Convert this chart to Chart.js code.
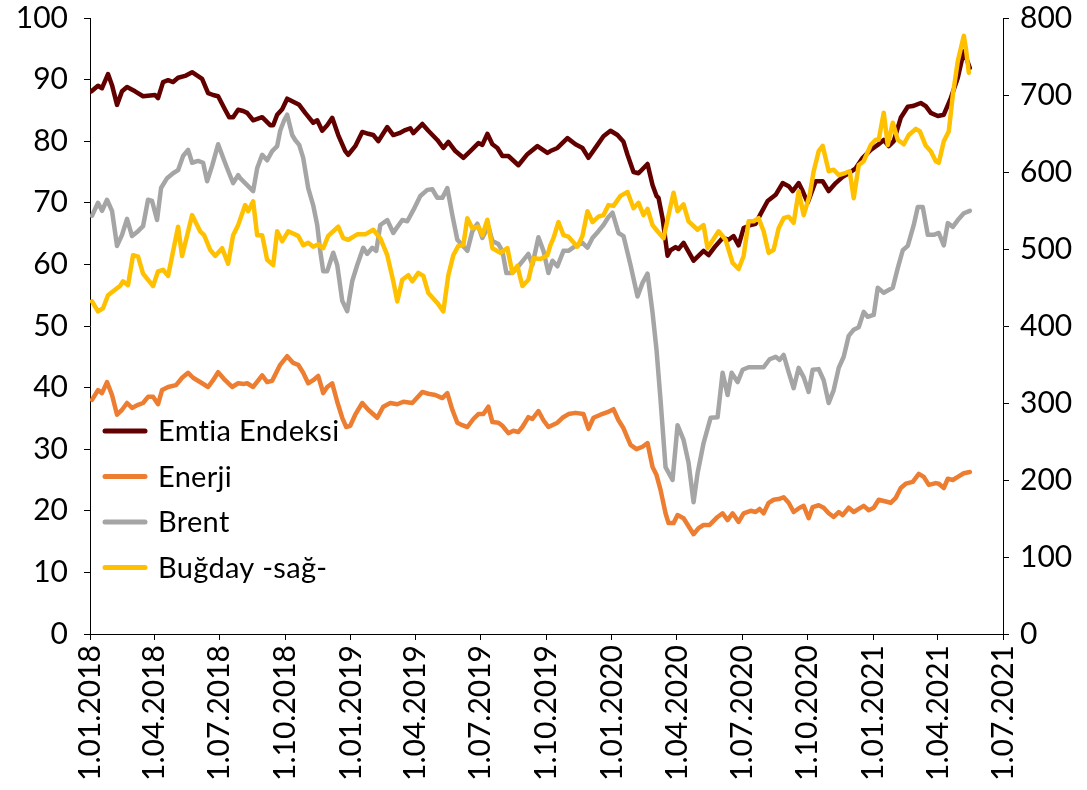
<!DOCTYPE html>
<html>
<head>
<meta charset="utf-8">
<script src="https://cdn.jsdelivr.net/npm/chart.js@4.4.1/dist/chart.umd.min.js"></script>
<style>
html,body{margin:0;padding:0;background:#fff;}
#wrap{width:1087px;height:790px;}
</style>
</head>
<body>
<div id="wrap"><canvas id="c" width="1087" height="790"></canvas></div>
<script>
// x values: weeks since 1.01.2018
const tickLabels = ['1.01.2018','1.04.2018','1.07.2018','1.10.2018','1.01.2019','1.04.2019','1.07.2019','1.10.2019','1.01.2020','1.04.2020','1.07.2020','1.10.2020','1.01.2021','1.04.2021','1.07.2021'];
const tickDates = ['2018-01-01','2018-04-01','2018-07-01','2018-10-01','2019-01-01','2019-04-01','2019-07-01','2019-10-01','2020-01-01','2020-04-01','2020-07-01','2020-10-01','2021-01-01','2021-04-01','2021-07-01'];
const seriesNames = ['Emtia Endeksi','Enerji','Brent','Buğday -sağ-'];

const emtiaWeek = [0.3,1.6,2.4,3.6,4.4,5.4,6.4,7.4,9.0,10.6,13.0,13.6,14.6,15.6,16.6,17.6,19.0,20.4,22.4,23.6,24.6,25.6,27.0,27.8,28.6,29.6,30.6,31.4,32.6,34.4,36.0,36.6,37.4,38.4,39.4,40.6,41.8,43.0,44.6,45.4,46.4,47.4,48.4,49.6,51.0,51.6,53.0,54.4,55.6,56.6,57.6,59.4,60.6,61.8,63.0,64.0,64.6,66.4,67.6,69.4,70.6,71.6,73.0,74.6,76.0,77.6,78.4,79.4,80.4,81.4,82.4,83.6,85.6,87.4,89.4,91.4,92.0,93.4,95.4,97.0,98.4,99.6,101.4,102.6,104.0,105.4,106.6,107.4,108.6,109.6,111.4,112.4,113.2,113.6,114.4,115.4,116.0,117.0,117.6,118.6,120.6,122.6,123.6,125.0,126.4,127.6,128.6,129.6,130.6,132.0,133.0,134.0,135.4,137.0,138.4,139.6,140.4,141.6,142.4,143.4,144.0,145.0,146.4,147.6,149.0,150.4,151.6,153.0,154.4,156.0,157.4,158.6,159.6,160.6,162.0,163.4,164.4,166.0,167.0,168.0,169.4,170.6,172.0,173.4,174.6,175.8];
const emtiaVal = [88.1,89.0,88.6,90.9,89.1,85.9,88.1,88.8,88.1,87.3,87.5,87.0,89.6,89.9,89.6,90.3,90.6,91.2,90.1,87.8,87.5,87.3,85.1,83.9,83.9,85.1,84.9,84.6,83.4,83.9,82.6,82.6,84.3,85.2,86.9,86.4,85.9,84.6,83.0,83.4,81.7,82.6,83.8,81.0,78.4,77.8,79.2,81.5,81.2,81.0,80.0,82.3,81.0,81.3,81.8,82.1,81.3,82.8,81.7,80.2,78.9,79.9,78.4,77.3,78.4,79.7,79.4,81.2,79.5,78.9,77.6,77.6,76.1,77.9,79.2,78.1,78.4,78.9,80.5,79.5,78.9,77.3,79.4,80.8,81.7,81.0,79.9,77.8,75.0,74.8,76.3,72.9,71.1,70.8,67.5,61.4,62.3,62.8,62.5,63.5,60.6,62.2,61.5,63.0,64.3,64.0,64.6,63.1,65.9,66.4,66.6,68.2,70.3,71.3,73.2,72.7,71.9,73.2,71.9,70.0,71.3,73.5,73.5,71.9,73.2,74.2,74.8,75.6,77.3,78.6,79.4,80.2,79.2,80.0,83.8,85.6,85.7,86.2,85.7,84.6,84.1,84.3,87.0,90.3,94.6,91.9];

const enerjiWeek = [0.4,1.6,2.4,3.4,4.4,5.4,6.4,7.4,8.4,9.6,10.6,11.6,12.6,13.6,14.4,15.6,17.2,18.4,19.6,20.6,22.4,23.6,24.6,25.6,27.0,28.4,29.6,30.8,31.4,32.6,34.4,35.4,36.4,38.0,39.4,40.6,41.6,42.6,43.6,44.6,45.6,46.6,47.4,48.4,49.4,50.4,51.2,52.0,53.0,54.4,55.6,57.4,58.6,60.0,61.4,62.6,64.4,66.4,67.6,69.0,70.4,71.4,72.4,73.4,74.4,75.4,76.6,77.6,78.6,79.6,80.4,81.6,82.4,83.6,84.6,85.6,86.4,87.6,88.4,89.6,90.6,91.6,93.4,94.4,95.6,97.0,98.6,99.6,100.6,102.0,103.4,104.6,105.6,106.6,108.0,109.2,110.4,111.4,112.4,113.2,114.0,115.0,115.6,116.6,117.4,118.6,119.6,120.6,121.6,122.6,123.8,124.4,125.4,126.4,127.4,128.4,129.6,130.6,132.0,133.0,133.8,134.6,135.6,136.6,137.6,138.6,139.6,140.6,141.8,142.6,143.6,144.4,145.6,146.6,147.6,148.6,149.6,150.4,151.6,152.6,153.6,154.6,155.6,156.6,157.6,158.6,160.0,161.0,162.0,163.0,164.4,165.6,166.6,167.6,169.0,169.6,170.6,171.4,172.4,173.4,174.6,175.8];
const enerjiVal = [38.0,39.6,39.1,40.9,38.8,35.6,36.4,37.5,36.7,37.2,37.5,38.5,38.5,37.3,39.6,40.1,40.4,41.6,42.4,41.6,40.7,40.1,41.2,42.5,41.2,40.1,40.7,40.6,40.7,40.1,42.0,40.9,41.1,43.7,45.1,44.0,43.7,42.4,40.7,41.2,41.9,39.1,40.1,40.7,37.7,35.1,33.6,33.8,35.6,37.5,36.4,35.1,36.9,37.5,37.3,37.7,37.5,39.3,39.0,38.8,38.3,39.1,36.4,34.3,33.9,33.6,34.9,35.7,35.7,36.9,34.4,34.3,33.8,32.6,33.0,32.8,33.6,35.2,34.9,36.2,34.7,33.6,34.3,35.1,35.7,35.9,35.7,33.3,35.1,35.6,36.0,36.5,34.7,33.4,30.7,30.0,30.4,31.0,27.1,25.8,23.4,19.6,18.0,18.0,19.3,18.8,17.5,16.2,17.2,17.7,17.7,18.2,19.0,19.6,18.5,19.6,18.2,19.6,20.0,19.8,20.3,19.6,21.3,21.8,21.9,22.2,21.3,19.8,20.5,20.8,18.8,20.6,20.9,20.5,19.6,19.0,19.8,19.3,20.5,19.8,20.3,20.8,20.1,20.5,21.8,21.6,21.3,22.1,23.7,24.4,24.7,26.0,25.5,24.2,24.5,24.4,23.7,25.2,25.0,25.5,26.1,26.3];

const brentWeek = [0.4,1.6,2.4,3.4,4.4,5.4,6.4,7.4,8.4,9.6,10.6,11.6,12.4,13.4,14.2,15.4,16.6,17.6,18.6,19.6,20.4,21.6,22.6,23.4,24.4,25.6,26.6,27.6,28.6,29.6,30.0,31.0,32.6,33.4,34.4,35.4,36.4,37.4,38.0,38.8,39.4,40.4,41.0,41.8,42.6,43.6,44.6,45.4,46.0,46.6,47.4,48.6,49.4,50.4,51.4,52.4,53.4,54.6,55.4,56.4,57.2,58.0,59.4,60.6,61.0,62.4,63.4,64.6,66.0,67.4,68.4,69.4,70.4,71.4,72.4,73.4,74.4,75.4,76.4,77.4,78.4,79.6,80.4,81.6,82.4,83.2,84.4,85.6,86.6,87.6,88.4,89.6,90.6,91.6,92.4,93.4,94.6,95.6,97.0,98.4,99.4,100.4,101.6,102.6,103.6,104.4,105.6,106.6,108.0,109.4,110.4,111.4,112.4,113.2,114.0,115.0,116.4,117.4,118.6,119.6,120.6,121.4,122.6,124.0,125.4,126.4,127.4,128.2,129.4,130.4,131.6,133.0,134.6,135.8,137.0,137.8,138.6,139.6,140.6,141.6,142.6,143.6,144.4,145.6,146.6,147.6,148.6,149.6,150.6,151.6,152.6,153.6,154.6,155.4,156.6,157.4,158.6,160.4,161.4,162.4,163.4,164.6,165.4,166.4,167.4,168.6,169.6,170.6,171.4,172.4,173.4,174.6,175.8];
const brentVal = [67.9,70.0,68.7,70.5,68.7,63.0,64.8,67.4,64.6,65.4,66.2,70.5,70.3,67.2,72.4,74.0,74.8,75.3,77.6,78.6,76.5,76.8,76.5,73.5,76.0,79.5,77.3,75.2,73.2,74.5,74.0,73.2,71.9,75.6,77.8,76.9,78.4,79.2,81.7,83.4,84.3,81.0,80.2,79.4,77.3,72.4,69.6,66.4,62.2,58.9,58.9,61.9,59.9,54.1,52.4,57.3,59.9,62.7,61.7,62.7,62.2,66.4,67.2,65.1,65.6,67.2,67.0,68.8,71.1,72.1,72.2,70.8,70.8,72.4,68.0,64.0,63.1,62.2,65.4,66.6,64.3,66.2,63.8,63.3,62.2,58.6,58.6,59.7,60.7,61.7,59.9,64.4,62.2,58.6,60.6,59.7,62.2,62.2,63.0,63.5,62.7,64.3,65.4,66.4,67.7,68.4,65.1,64.6,59.9,54.8,57.0,58.5,52.2,46.1,38.0,27.1,25.0,33.9,31.5,27.8,21.4,26.1,31.0,35.1,35.2,42.4,38.8,42.4,40.9,42.9,43.3,43.3,43.3,44.6,45.0,44.5,45.3,42.5,39.9,43.2,41.7,39.3,42.9,43.0,41.2,37.5,39.6,43.2,45.0,48.4,49.4,49.8,52.3,51.5,51.8,56.2,55.4,56.2,59.4,62.3,63.0,66.4,69.3,69.3,64.8,64.8,65.1,63.1,66.7,66.1,67.2,68.3,68.7];

const bugdayWeek = [0.4,1.6,2.6,3.6,5.0,6.0,6.6,7.6,8.6,9.6,10.6,12.6,13.6,14.6,15.6,17.6,18.4,20.4,22.0,22.8,24.0,25.0,26.4,27.6,28.6,29.6,31.0,31.6,32.6,33.4,34.4,35.4,36.6,37.4,38.4,39.6,41.6,42.6,43.6,44.6,45.6,46.6,47.6,49.6,50.6,51.6,53.4,55.0,56.6,58.0,59.4,60.6,61.4,62.4,63.6,64.4,65.6,66.6,67.6,69.4,70.6,71.6,72.6,73.6,74.6,75.4,76.4,77.6,78.4,79.4,80.4,82.0,83.4,84.4,85.4,86.4,87.6,88.6,90.0,91.4,92.0,92.6,93.6,94.6,95.6,97.4,98.4,99.4,100.4,101.6,102.6,103.6,104.6,106.0,107.4,108.6,109.6,110.6,111.4,112.4,113.4,114.6,115.6,116.6,117.4,118.6,119.6,121.4,122.6,123.4,125.6,127.0,128.4,129.6,130.6,131.6,132.6,133.6,134.6,135.6,136.6,137.6,138.6,139.6,140.6,141.6,142.6,143.8,144.6,145.6,146.4,147.6,148.6,149.6,151.0,151.8,152.6,153.6,154.6,156.0,157.0,157.6,158.6,159.4,160.4,161.4,162.6,163.6,165.0,165.8,167.0,168.0,169.0,169.6,170.6,171.6,172.4,173.4,174.6,175.0,175.6];
const bugdayVal = [432,419,423,440,447,452,458,453,492,490,468,452,471,473,465,529,491,544,523,518,499,491,501,481,518,531,557,549,562,518,518,486,479,523,510,523,517,505,508,503,506,501,517,529,514,512,519,519,525,514,492,458,432,460,466,458,469,465,443,430,419,466,492,504,505,540,527,529,518,538,501,495,501,469,478,452,460,488,487,492,505,514,535,518,516,503,517,549,535,542,544,557,556,569,574,553,560,544,552,531,523,514,544,573,549,558,536,525,531,501,523,512,482,474,491,536,536,540,523,495,499,527,540,542,534,575,544,570,601,627,634,601,603,596,599,601,566,609,614,635,642,642,677,635,664,642,636,648,656,653,634,627,614,612,640,653,700,744,777,761,729];

const colors = ['#620000','#ED7D31','#A5A5A5','#FFC000'];
const FONT = 'Lato, "Open Sans", sans-serif';

function toPts(w, v){ return w.map((x,i)=>({x:x, y:v[i]})); }
const DAY = 86400000;
const t0 = Date.UTC(2018,0,1);
function weeksOf(s){ const p=s.split('-').map(Number); return (Date.UTC(p[0],p[1]-1,p[2])-t0)/DAY/7; }
const tickWeeks = tickDates.map(weeksOf);

const legendPlugin = {
  id:'customLegend',
  afterDraw(chart){
    const ctx = chart.ctx, a = chart.chartArea;
    ctx.save();
    chart.data.datasets.forEach((ds,i)=>{
      const y = a.top + 413 + i*45.5;
      ctx.strokeStyle = ds.borderColor;
      ctx.lineWidth = 5;
      ctx.lineCap = 'round';
      ctx.beginPath(); ctx.moveTo(a.left+15, y); ctx.lineTo(a.left+55, y); ctx.stroke();
      ctx.fillStyle = '#000';
      ctx.font = '29px ' + FONT;
      if ('letterSpacing' in ctx) ctx.letterSpacing = '0.3px';
      ctx.textBaseline = 'middle';
      ctx.textAlign = 'left';
      ctx.fillText(ds.label, a.left+68, y+1);
    });
    ctx.restore();
  }
};

const mk = (i, w, v, axis, order) => ({
  label: seriesNames[i], data: toPts(w, v), yAxisID: axis,
  borderColor: colors[i], backgroundColor: colors[i],
  borderWidth: 4.5, pointRadius: 0, tension: 0, order: order,
  borderJoinStyle: 'round', borderCapStyle: 'round', fill: false
});

const fitV = (w) => (s) => { s.width = w; s.paddingTop = 0; s.paddingBottom = 0; };

new Chart(document.getElementById('c'), {
  type: 'line',
  data: { datasets: [
    mk(0, emtiaWeek, emtiaVal, 'y', 4),
    mk(1, enerjiWeek, enerjiVal, 'y', 3),
    mk(2, brentWeek, brentVal, 'y', 2),
    mk(3, bugdayWeek, bugdayVal, 'y1', 1)
  ]},
  options: {
    responsive: false, animation: false,
    layout: { padding: { top: 18, left: 0, right: 0, bottom: 0 } },
    plugins: { legend: { display: false }, tooltip: { enabled: false } },
    scales: {
      x: {
        type: 'linear', position: 'bottom', min: 0, max: tickWeeks[tickWeeks.length-1],
        afterBuildTicks: s => { s.ticks = tickWeeks.map(v => ({ value: v })); },
        afterFit: s => { s.height = 156; s.paddingLeft = 0; s.paddingRight = 0; s.paddingTop = 0; s.paddingBottom = 0; },
        ticks: { autoSkip: false, maxRotation: 90, minRotation: 90, padding: 5, color: '#000',
          font: { family: FONT, size: 30 },
          callback: (v, i) => tickLabels[i] },
        grid: { drawOnChartArea: false, drawTicks: true, tickLength: 6, color: '#000' },
        border: { display: true, color: '#000', width: 1 }
      },
      y: {
        position: 'left', min: 0, max: 100,
        afterFit: fitV(90),
        ticks: { stepSize: 10, padding: 16, color: '#000', font: { family: FONT, size: 30 } },
        grid: { drawOnChartArea: false, drawTicks: true, tickLength: 6, color: '#000' },
        border: { display: true, color: '#000', width: 1 }
      },
      y1: {
        position: 'right', min: 0, max: 800,
        afterFit: fitV(84),
        ticks: { stepSize: 100, padding: 11, color: '#000', font: { family: FONT, size: 30 } },
        grid: { drawOnChartArea: false, drawTicks: true, tickLength: 6, color: '#000' },
        border: { display: true, color: '#000', width: 1 }
      }
    }
  },
  plugins: [legendPlugin]
});
</script>
</body>
</html>
